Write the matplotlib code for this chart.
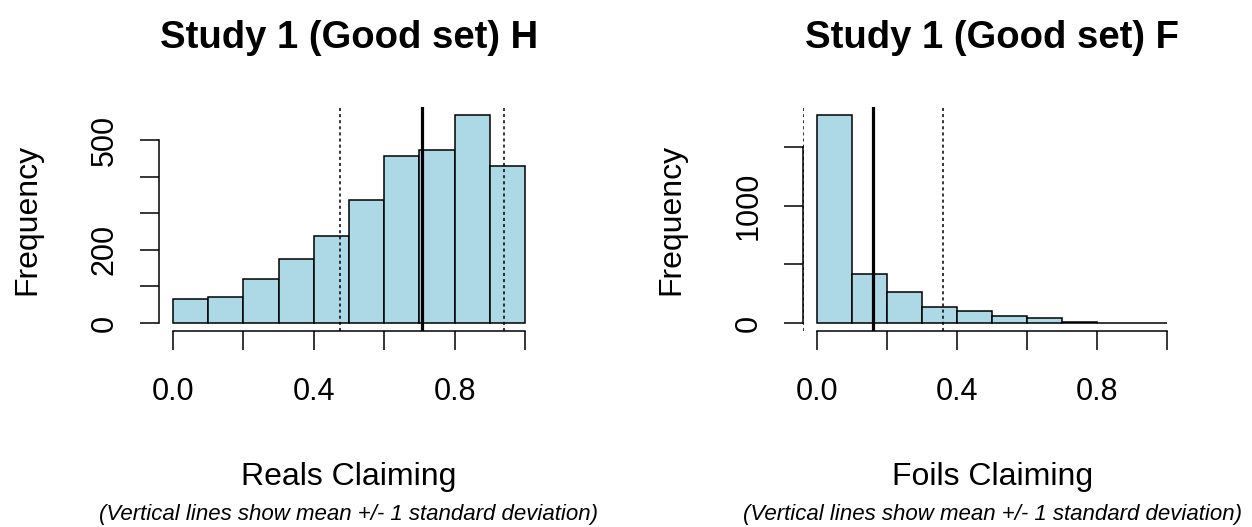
import numpy as np
import matplotlib
matplotlib.use("Agg")
import matplotlib.pyplot as plt

plt.rcParams['font.family'] = ['Liberation Sans', 'DejaVu Sans']

# histogram bins (shared by both panels)
bin_edges = [0.0, 0.1, 0.2, 0.3, 0.4, 0.5, 0.6, 0.7, 0.8, 0.9, 1.0]

# counts
reals_counts = [65, 71, 121, 175, 237, 336, 456, 473, 568, 429]
foils_counts = [1776, 418, 261, 136, 105, 63, 42, 12, 0, 0]

# mean and sd lines
reals_mean, reals_sd = 0.707, 0.233
foils_mean, foils_sd = 0.160, 0.199

x_ticks = [0.0, 0.2, 0.4, 0.6, 0.8, 1.0]
x_ticklabels = ['0.0', '', '0.4', '', '0.8', '']

reals_yticks = [0, 100, 200, 300, 400, 500]
reals_yticklabels = ['0', '', '200', '', '', '500']
foils_yticks = [0, 500, 1000, 1500]
foils_yticklabels = ['0', '', '1000', '']

titles = ['Study 1 (Good set) H', 'Study 1 (Good set) F']
xlabels = ['Reals Claiming', 'Foils Claiming']
note = '(Vertical lines show mean +/- 1 standard deviation)'

fig = plt.figure(figsize=(12.52, 5.27), dpi=100)
ax1 = fig.add_axes([0.127, 0.3714, 0.3035, 0.426])
ax2 = fig.add_axes([0.6414, 0.3714, 0.302, 0.426])

paneles = [
    (ax1, reals_counts, reals_mean, reals_sd, reals_yticks, reals_yticklabels),
    (ax2, foils_counts, foils_mean, foils_sd, foils_yticks, foils_yticklabels),
]

for i, (ax, counts, media, sd, yt, ytl) in enumerate(paneles):
    anchos = np.diff(bin_edges)
    ax.bar(bin_edges[:-1], counts, width=anchos, align='edge',
           color='#ADD8E6', edgecolor='black', linewidth=1.1, zorder=2)

    ax.axvline(media, color='black', linewidth=2.3, zorder=3)
    ax.axvline(media - sd, color='black', linewidth=1.1, linestyle=(0, (2, 2)), zorder=3)
    ax.axvline(media + sd, color='black', linewidth=1.1, linestyle=(0, (2, 2)), zorder=3)

    tope = max(counts)
    ax.set_xlim(-0.04, 1.04)
    ax.set_ylim(-0.04 * tope, 1.04 * tope)

    for lado in ['top', 'right']:
        ax.spines[lado].set_visible(False)
    ax.spines['left'].set_bounds(yt[0], yt[-1])
    ax.spines['bottom'].set_bounds(x_ticks[0], x_ticks[-1])
    ax.spines['left'].set_linewidth(1.1)
    ax.spines['bottom'].set_linewidth(1.1)

    ax.set_xticks(x_ticks)
    ax.set_xticklabels(x_ticklabels)
    ax.set_yticks(yt)
    ax.set_yticklabels(ytl, rotation=90, va='center')
    ax.tick_params(axis='both', direction='out', length=13.7, width=1.1,
                   labelsize=22)
    ax.tick_params(axis='x', pad=19.5)
    ax.tick_params(axis='y', pad=14.5)

    ax.text(0.5, 1.262, titles[i], transform=ax.transAxes, ha='center',
            va='baseline', fontsize=27.5, fontweight='bold')
    ax.text(-0.347, 0.5, 'Frequency', transform=ax.transAxes, rotation=90,
            ha='center', va='center', fontsize=23)
    ax.text(0.5, -0.685, xlabels[i], transform=ax.transAxes, ha='center',
            va='baseline', fontsize=23)
    ax.text(0.5, -0.841, note, transform=ax.transAxes, ha='center',
            va='baseline', fontsize=16, style='italic')

fig.savefig('out.png', dpi=100)
